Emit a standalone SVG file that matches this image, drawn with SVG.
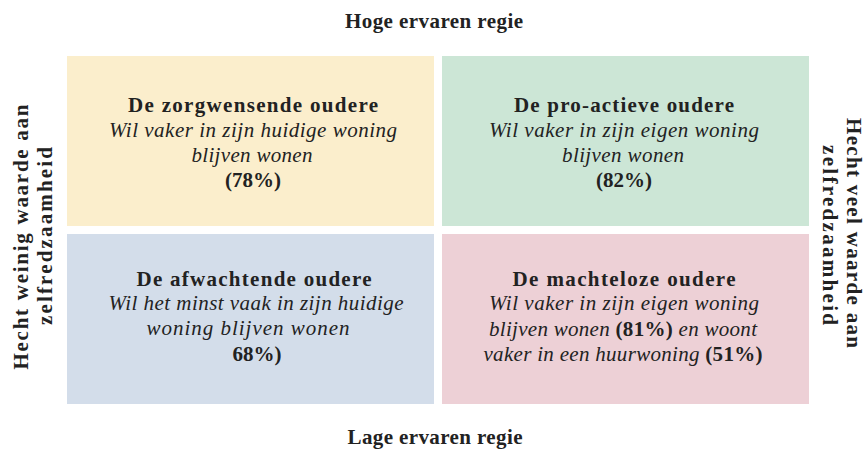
<svg xmlns="http://www.w3.org/2000/svg" width="866" height="449" viewBox="0 0 866 449">
<style>
text{font-family:"Liberation Serif","DejaVu Serif",serif;fill:#222;text-anchor:middle;font-size:21px}
.b{font-weight:bold}
.i{font-style:italic}
.ax{font-weight:bold;font-size:21px}
</style>
<rect width="866" height="449" fill="#fff"/>
<g id="axes">
<text class="ax" x="434" y="28" textLength="178">Hoge ervaren regie</text>
<text class="ax" x="435" y="444" textLength="175">Lage ervaren regie</text>
<text class="ax" transform="translate(28,237) rotate(-90)" textLength="265">Hecht weinig waarde aan</text>
<text class="ax" transform="translate(52,236) rotate(-90)" textLength="178">zelfredzaamheid</text>
<text class="ax" transform="translate(847,233) rotate(90)" textLength="230">Hecht veel waarde aan</text>
<text class="ax" transform="translate(823,235) rotate(90)" textLength="180">zelfredzaamheid</text>
</g>
<g id="q1">
<rect x="67" y="56" width="367" height="170" fill="#FBEECC"/>
<text class="b" x="253" y="112" textLength="250">De zorgwensende oudere</text>
<text class="i" x="253" y="137" textLength="288">Wil vaker in zijn huidige woning</text>
<text class="i" x="252" y="162" textLength="121">blijven wonen</text>
<text class="b" x="253" y="187">(78%)</text>
</g>
<g id="q2">
<rect x="442" y="56" width="367" height="170" fill="#CCE6D6"/>
<text class="b" x="624" y="112" textLength="220">De pro-actieve oudere</text>
<text class="i" x="624" y="137" textLength="270">Wil vaker in zijn eigen woning</text>
<text class="i" x="623" y="162" textLength="122">blijven wonen</text>
<text class="b" x="624" y="187">(82%)</text>
</g>
<g id="q3">
<rect x="67" y="234" width="367" height="170" fill="#D3DDEA"/>
<text class="b" x="254" y="286" textLength="235">De afwachtende oudere</text>
<text class="i" x="256" y="310" textLength="295">Wil het minst vaak in zijn huidige</text>
<text class="i" x="248" y="335" textLength="203">woning blijven wonen</text>
<text class="b" x="257" y="361">68%)</text>
</g>
<g id="q4">
<rect x="442" y="234" width="367" height="170" fill="#EDD0D6"/>
<text class="b" x="624" y="286" textLength="223">De machteloze oudere</text>
<text class="i" x="624" y="310" textLength="270">Wil vaker in zijn eigen woning</text>
<text x="623" y="336" textLength="268"><tspan class="i">blijven wonen </tspan><tspan class="b">(81%)</tspan><tspan class="i"> en woont</tspan></text>
<text x="623" y="361" textLength="279"><tspan class="i">vaker in een huurwoning </tspan><tspan class="b">(51%)</tspan></text>
</g>
<g id="connectors"></g>
</svg>
